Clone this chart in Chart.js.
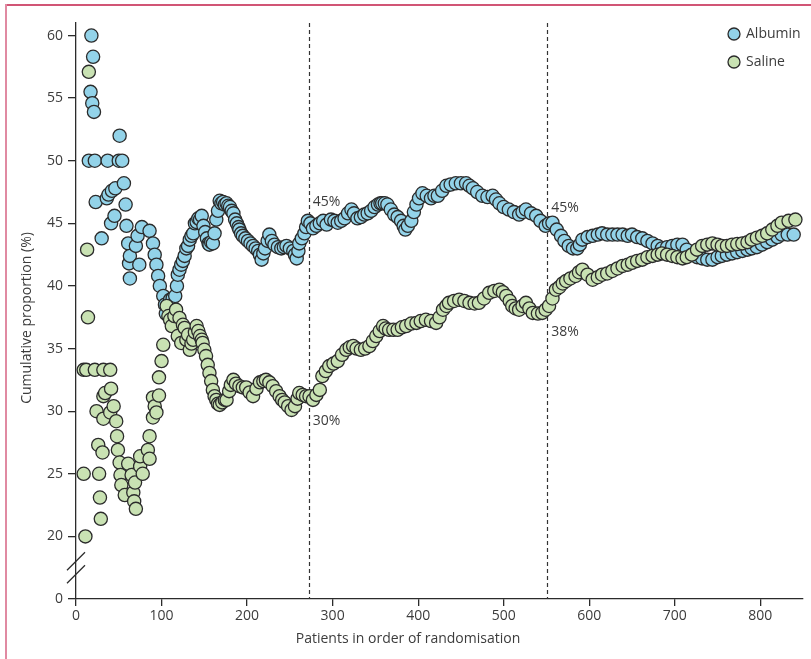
<!DOCTYPE html>
<html>
<head>
<meta charset="utf-8">
<script src="https://cdn.jsdelivr.net/npm/chart.js@4"></script>
<style>
  body { margin: 0; background: #fff; }
  #wrap { width: 811px; height: 659px; }
</style>
</head>
<body>
<div id="wrap"><canvas id="graph" width="811" height="659"></canvas></div>
<script>
// values (patient number, cumulative %)
var albuminX = [15, 17, 18, 19, 20, 21, 22, 23, 30, 36, 37, 38, 41, 42, 45, 46, 50, 51, 54, 56, 58, 59, 61, 62, 63, 63, 70, 72, 74, 77, 86, 90, 92, 94, 96, 98, 102, 104, 105,
    108, 110, 113, 116, 118, 119, 121, 123, 125, 127, 129, 131, 133, 135, 137, 139, 141, 143, 145, 147, 149, 151, 153, 155, 156, 158, 160, 162, 164, 166, 168, 170, 172, 174, 176, 178, 180,
    182, 184, 186, 188, 190, 191, 193, 195, 198, 201, 204, 207, 210, 213, 215, 217, 219, 221, 224, 226, 229, 232, 236, 240, 243, 246, 250, 254, 256, 258, 260, 261, 264, 267, 269, 271,
    274, 277, 281, 285, 289, 293, 298, 302, 306, 310, 314, 318, 322, 325, 329, 333, 337, 341, 345, 349, 353, 356, 358, 361, 364, 368, 372, 376, 380, 383, 385, 388, 392, 395, 398, 401, 405,
    410, 415, 419, 423, 428, 433, 438, 444, 450, 456, 460, 464, 469, 475, 481, 487, 491, 495, 500, 506, 512, 518, 522, 526, 532, 538, 543, 549, 553, 557, 562, 567, 571, 576, 581, 586, 589, 592,
    598, 604, 610, 615, 621, 627, 633, 639, 645, 650, 656, 662, 668, 674, 680, 685, 691, 697, 703, 709, 714, 720, 726, 732, 738, 744, 750, 755, 761, 767, 773, 779, 785, 790, 796, 802, 808, 814, 820, 825, 832, 839];
var albuminY = [50, 55.5, 60, 54.6, 58.3, 53.9, 50, 46.7, 43.8, 47.0, 50, 47.3, 45.0, 47.6, 45.6, 47.8, 50, 52, 50, 48.2, 46.5, 44.8, 43.4, 41.8, 42.4, 40.6, 43.2, 44.0, 41.7, 44.7, 44.4, 43.4, 42.5, 41.7, 40.8, 40.0, 39.2, 38.5, 37.8,
    38.3, 38.9, 39.0, 39.2, 40.0, 40.9, 41.3, 41.7, 42.0, 42.4, 43.0, 43.2, 43.7, 44.0, 44.2, 45.0, 45.1, 45.4, 45.3, 45.6, 44.8, 44.3, 43.8, 43.4, 43.3, 43.5, 43.4, 44.2, 45.3, 46.0, 46.8, 46.6, 46.7, 46.5, 46.6, 46.4, 46.3,
    46.0, 45.8, 45.3, 45.0, 44.7, 44.5, 44.2, 44.0, 43.8, 43.6, 43.4, 43.2, 43.0, 42.8, 42.5, 42.1, 42.6, 43.0, 43.6, 44.1, 43.6, 43.3, 43.1, 43.0, 43.1, 43.2, 43.0, 42.8, 42.5, 42.2, 42.8, 43.4, 43.8, 44.2, 44.7, 45.2,
    45.0, 44.6, 44.8, 45.0, 45.2, 44.9, 45.3, 45.2, 45.05, 45.2, 45.4, 45.8, 46.1, 45.8, 45.4, 45.5, 45.7, 45.8, 46.0, 46.3, 46.5, 46.6, 46.6, 46.6, 46.5, 46.1, 45.7, 45.5, 45.2, 44.8, 44.5, 44.8, 45.2, 45.9, 46.5, 47.0, 47.4,
    47.2, 47.0, 47.2, 47.2, 47.6, 48.0, 48.1, 48.2, 48.2, 48.2, 48.0, 47.8, 47.5, 47.2, 47.1, 47.2, 46.9, 46.6, 46.3, 46.1, 45.9, 45.7, 45.9, 46.1, 45.8, 45.6, 45.2, 44.8, 45.0, 45.05, 44.5, 44.0, 43.6, 43.2, 43.0, 43.0, 43.3, 43.7,
    43.9, 44.0, 44.1, 44.2, 44.1, 44.1, 44.1, 44.1, 44.0, 44.1, 43.9, 43.8, 43.6, 43.4, 43.2, 43.0, 43.1, 43.2, 43.3, 43.3, 42.9, 42.5, 42.3, 42.2, 42.1, 42.1, 42.3, 42.4, 42.5, 42.6, 42.7, 42.8, 42.9, 43.0, 43.1, 43.3, 43.5, 43.7, 43.9, 44.1, 44.1, 44.1];

var salineX = [9, 9, 11, 12, 13, 14, 15, 22, 24, 26, 27, 28, 29, 31, 32, 32, 32, 34, 40, 40, 41, 44, 47, 48, 49, 51, 52, 53, 57, 61, 65, 67, 68, 69, 70, 75, 75, 78, 84, 86, 86, 90, 90, 92, 94, 97, 97, 100, 102,
    106, 108, 110, 112, 115, 117, 119, 121, 123, 125, 127, 129, 131, 133, 135, 137, 139, 141, 143, 145, 147, 148, 150, 152, 154, 156, 158, 160, 162, 164, 166, 168, 171, 174, 176, 179, 181, 184, 187,
    191, 195, 199, 203, 207, 211, 215, 219, 222, 226, 230, 234, 238, 241, 244, 248, 252, 256, 259, 261, 265, 269, 273, 277, 281, 285, 288, 292, 296, 301, 306, 311, 316, 320, 324, 328, 333, 338,
    343, 347, 351, 355, 359, 362, 366, 371, 376, 381, 386, 392, 398, 403, 409, 415, 421, 425, 429, 433, 436, 442, 448, 454, 460, 466, 471, 477, 483, 489, 495, 499, 503, 507, 510, 514, 518, 522,
    526, 530, 534, 540, 545, 549, 553, 557, 561, 565, 569, 573, 578, 584, 588, 592, 598, 604, 610, 615, 621, 627, 633, 639, 645, 650, 656, 662, 668, 674, 680, 685, 691, 697, 703, 709, 714, 720,
    726, 732, 738, 744, 750, 755, 761, 767, 773, 779, 785, 790, 796, 802, 808, 814, 820, 825, 833, 841];
var salineY = [33.3, 25, 20, 33.3, 42.9, 37.5, 57.1, 33.3, 30.0, 27.3, 25, 23.1, 21.4, 26.7, 33.3, 31.2, 29.4, 31.45, 29.9, 33.3, 31.8, 30.4, 29.2, 28.0, 26.9, 25.9, 24.9, 24.1, 23.3, 25.8, 24.9, 23.5, 22.8, 24.3, 22.2, 25.6, 26.4, 25.0, 26.9, 26.2, 28, 29.5, 31.1, 30.4, 29.9, 31.25, 32.7, 34.0, 35.3,
    38.4, 37.6, 37.3, 36.8, 37.6, 38.1, 36.0, 37.45, 35.45, 36.9, 36.65, 35.7, 36.1, 34.9, 35.4, 35.7, 36.3, 36.8, 36.4, 36.0, 35.7, 35.45, 34.9, 34.4, 33.7, 33.05, 32.4, 31.7, 31.2, 30.9, 30.6, 30.5, 30.7, 30.9, 30.9, 31.6, 32.1, 32.5, 32.2,
    32.0, 31.9, 31.9, 31.5, 31.2, 31.8, 32.3, 32.4, 32.5, 32.3, 32.0, 31.6, 31.2, 30.9, 30.7, 30.4, 30.1, 30.4, 31.0, 31.45, 31.3, 31.2, 31.2, 30.9, 31.3, 31.7, 32.8, 33.2, 33.6, 33.8, 34.0, 34.5, 34.9, 35.1, 35.2, 35.0, 34.9, 35.0,
    35.2, 35.6, 36.0, 36.4, 36.8, 36.6, 36.5, 36.5, 36.5, 36.7, 36.8, 37.0, 37.05, 37.2, 37.3, 37.2, 37.05, 37.5, 38.1, 38.4, 38.65, 38.8, 38.9, 38.8, 38.65, 38.6, 38.65, 39.0, 39.45, 39.6, 39.7, 39.5, 39.2, 38.8, 38.4, 38.2, 38.1, 38.4,
    38.65, 38.2, 37.85, 37.8, 37.85, 38.1, 38.4, 39.0, 39.7, 39.9, 40.2, 40.4, 40.6, 40.8, 41.1, 41.3, 40.9, 40.5, 40.7, 40.9, 41.0, 41.2, 41.4, 41.6, 41.7, 41.85, 42.0, 42.1, 42.3, 42.4, 42.5, 42.6, 42.5, 42.4, 42.3, 42.2, 42.3, 42.5,
    42.9, 43.2, 43.3, 43.4, 43.3, 43.2, 43.2, 43.3, 43.35, 43.4, 43.5, 43.7, 43.85, 44.0, 44.2, 44.5, 44.8, 45.05, 45.2, 45.3];

var xTicks = [0, 100, 200, 300, 400, 500, 600, 700, 800];
var yTicks = [15, 20, 25, 30, 35, 40, 45, 50, 55, 60];
var yTickLabels = ['0', '20', '25', '30', '35', '40', '45', '50', '55', '60'];

// dashed markers and their labels
var markerX = [272, 551];
var markerNotes = [
    {x: 272, y: 46.7, text: '45%'},
    {x: 272, y: 29.2, text: '30%'},
    {x: 551, y: 46.25, text: '45%'},
    {x: 551, y: 36.35, text: '38%'}
];

var blueFill = '#93d3e9';
var greenFill = '#c9e2b3';
var inkColor = '#2b2b2b';
var textColor = '#3c3c3c';
var fontFamily = '"Open Sans", "Noto Sans", sans-serif';

function toPoints(xs, ys) {
    var out = [];
    for (var i = 0; i < xs.length; i++) {
        out.push({x: xs[i], y: ys[i]});
    }
    return out;
}

var decorPlugin = {
    id: 'decor',
    beforeDraw: function (chart) {
        var ctx = chart.ctx;
        ctx.save();
        ctx.fillStyle = '#fff';
        ctx.fillRect(0, 0, chart.width, chart.height);
        // panel frame
        ctx.strokeStyle = '#c21d47';
        ctx.lineWidth = 1.5;
        ctx.beginPath();
        ctx.moveTo(6, 5);
        ctx.lineTo(chart.width, 5);
        ctx.stroke();
        ctx.strokeStyle = '#e08aa2';
        ctx.lineWidth = 2;
        ctx.beginPath();
        ctx.moveTo(6, 4);
        ctx.lineTo(6, chart.height);
        ctx.stroke();
        ctx.restore();
    },
    beforeDatasetsDraw: function (chart) {
        var ctx = chart.ctx;
        var xs = chart.scales.x;
        var area = chart.chartArea;
        ctx.save();
        ctx.strokeStyle = '#333';
        ctx.lineWidth = 1.2;
        ctx.setLineDash([4, 3]);
        markerX.forEach(function (v) {
            var px = Math.round(xs.getPixelForValue(v)) + 0.5;
            ctx.beginPath();
            ctx.moveTo(px, area.top);
            ctx.lineTo(px, area.bottom);
            ctx.stroke();
        });
        ctx.restore();
    },
    afterDraw: function (chart) {
        var ctx = chart.ctx;
        var xs = chart.scales.x;
        var ys = chart.scales.y;
        var area = chart.chartArea;
        ctx.save();
        ctx.font = '14px ' + fontFamily;
        ctx.fillStyle = textColor;
        ctx.textBaseline = 'middle';
        ctx.textAlign = 'left';
        markerNotes.forEach(function (n) {
            ctx.fillText(n.text, xs.getPixelForValue(n.x) + 4, ys.getPixelForValue(n.y));
        });

        // axis break
        var bx = area.left;
        var by = ys.getPixelForValue(17.5);
        ctx.strokeStyle = inkColor;
        ctx.lineWidth = 1.3;
        [-6.5, 6.5].forEach(function (d) {
            ctx.beginPath();
            ctx.moveTo(bx - 9, by + d + 9);
            ctx.lineTo(bx + 9, by + d - 9);
            ctx.stroke();
        });

        // legend
        var items = [
            {label: 'Albumin', fill: blueFill, y: 34},
            {label: 'Saline', fill: greenFill, y: 62}
        ];
        items.forEach(function (it) {
            ctx.beginPath();
            ctx.arc(734, it.y, 6, 0, Math.PI * 2);
            ctx.fillStyle = it.fill;
            ctx.fill();
            ctx.strokeStyle = inkColor;
            ctx.lineWidth = 1.3;
            ctx.stroke();
            ctx.fillStyle = textColor;
            ctx.fillText(it.label, 746, it.y);
        });

        // axis titles
        ctx.font = '14px ' + fontFamily;
        ctx.textAlign = 'center';
        ctx.fillText('Patients in order of randomisation', 408, 639);
        ctx.translate(27, 318);
        ctx.rotate(-Math.PI / 2);
        ctx.fillText('Cumulative proportion (%)', 0, 0);
        ctx.restore();
    }
};

var graphTarget = document.getElementById('graph');

var pointStyle = {
    pointRadius: 6.6,
    pointHoverRadius: 6.6,
    pointBorderWidth: 1.3,
    pointBorderColor: inkColor
};

var scatterChart = new Chart(graphTarget, {
    type: 'scatter',
    data: {
        datasets: [
            Object.assign({
                label: 'Albumin',
                data: toPoints(albuminX, albuminY),
                backgroundColor: blueFill,
                borderColor: inkColor,
                order: 2
            }, pointStyle),
            Object.assign({
                label: 'Saline',
                data: toPoints(salineX, salineY),
                backgroundColor: greenFill,
                borderColor: inkColor,
                order: 1
            }, pointStyle)
        ]
    },
    options: {
        responsive: false,
        animation: false,
        layout: {padding: {left: 0, top: 23, right: 6, bottom: 0}},
        plugins: {
            legend: {display: false},
            tooltip: {enabled: false}
        },
        scales: {
            x: {
                type: 'linear',
                min: 0,
                max: 850,
                afterFit: function (s) { s.height = 60; },
                afterBuildTicks: function (s) {
                    s.ticks = xTicks.map(function (v) { return {value: v}; });
                },
                grid: {display: true, drawOnChartArea: false, drawTicks: true, tickLength: 7, color: inkColor, lineWidth: 1.3},
                border: {display: true, color: inkColor, width: 1.3},
                ticks: {color: textColor, font: {size: 14, family: fontFamily}, padding: 2, maxRotation: 0}
            },
            y: {
                type: 'linear',
                min: 15,
                max: 61,
                afterFit: function (s) { s.width = 76; },
                afterBuildTicks: function (s) {
                    s.ticks = yTicks.map(function (v) { return {value: v}; });
                },
                grid: {display: true, drawOnChartArea: false, drawTicks: true, tickLength: 8, color: inkColor, lineWidth: 1.3},
                border: {display: true, color: inkColor, width: 1.3},
                ticks: {
                    color: textColor,
                    font: {size: 14, family: fontFamily},
                    padding: 5,
                    callback: function (value) {
                        var i = yTicks.indexOf(value);
                        return i >= 0 ? yTickLabels[i] : '';
                    }
                }
            }
        }
    },
    plugins: [decorPlugin]
});
</script>
</body>
</html>
